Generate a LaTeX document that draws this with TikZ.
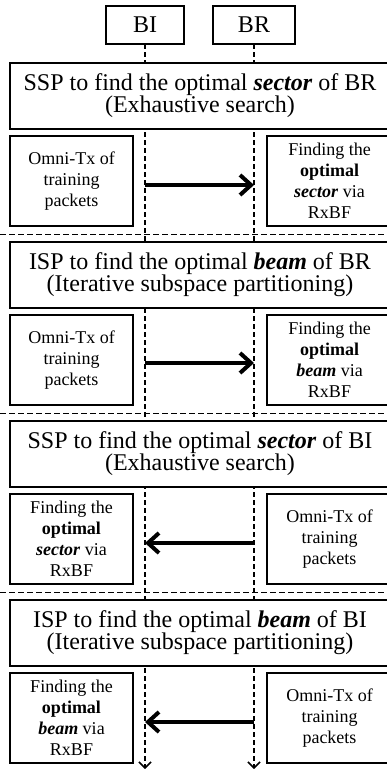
\documentclass[tikz,border=0pt]{standalone}
\usepackage{fontspec}
\setmainfont{Liberation Serif}
\usetikzlibrary{arrows.meta,positioning}

\begin{document}
\begin{tikzpicture}[
  node distance=7pt and 134pt,
  actor/.style={draw, line width=1.5pt, outer sep=0pt, inner sep=0pt, minimum width=78pt, minimum height=38pt, font=\fontsize{24}{26}\selectfont},
  phase/.style={draw, line width=1.8pt, outer sep=0pt, inner sep=0pt, fill=white, align=center, minimum width=380pt, minimum height=66pt, font=\fontsize{24}{22}\selectfont},
  job/.style={draw, line width=1.8pt, outer sep=0pt, inner sep=0pt, fill=white, align=center, minimum height=90pt, font=\fontsize{18}{21}\selectfont},
  life/.style={line width=1.5pt, dash pattern=on 5pt off 3pt, -{Straight Barb[length=6pt,width=12pt]}},
  sepline/.style={line width=1.8pt, dash pattern=on 6pt off 3pt},
  msg/.style={line width=4pt, -{Straight Barb[length=11pt,width=20pt]}}
]
\useasboundingbox (0,0) rectangle (387pt,-769pt);
\coordinate (L) at (0,0);
\coordinate (R) at (387pt,0);
\coordinate (bottom) at (0,-769pt);

% stations and their lifelines
\node[actor] (bi) at (145pt,-25pt) {BI};
\node[actor, minimum width=82pt] (br) at (254pt,-25pt) {BR};
\draw[life] (bi) -- (bi |- bottom);
\draw[life] (br) -- (br |- bottom);

% sector sweep of BR
\node[phase, anchor=north west] (sspr) at (10pt,-63pt) {SSP to find the optimal \textbf{\textit{sector}} of BR\\(Exhaustive search)};
\node[job, minimum width=123pt, below right=7pt and 0pt of sspr.south west] (txa) {Omni-Tx of\\training\\packets};
\node[job, minimum width=125pt, right=of txa] (rxa) {Finding the\\\textbf{optimal}\\\textbf{\textit{sector}} via\\RxBF};
\coordinate[below=8.5pt of txa.south] (sepa);
\draw[sepline] (L |- sepa) -- (R |- sepa);

% beam refinement of BR
\node[phase, below right=16pt and 0pt of txa.south west] (ispr) {ISP to find the optimal \textbf{\textit{beam}} of BR\\(Iterative subspace partitioning)};
\node[job, minimum width=123pt, below right=7pt and 0pt of ispr.south west] (txb) {Omni-Tx of\\training\\packets};
\node[job, minimum width=125pt, right=of txb] (rxb) {Finding the\\\textbf{optimal}\\\textbf{\textit{beam}} via\\RxBF};
\coordinate[below=8.5pt of txb.south] (sepb);
\draw[sepline] (L |- sepb) -- (R |- sepb);

% sector sweep of BI
\node[phase, below right=16pt and 0pt of txb.south west] (sspi) {SSP to find the optimal \textbf{\textit{sector}} of BI\\(Exhaustive search)};
\node[job, minimum width=123pt, below right=7pt and 0pt of sspi.south west] (rxc) {Finding the\\\textbf{optimal}\\\textbf{\textit{sector}} via\\RxBF};
\node[job, minimum width=125pt, right=of rxc] (txc) {Omni-Tx of\\training\\packets};
\coordinate[below=8.5pt of rxc.south] (sepc);
\draw[sepline] (L |- sepc) -- (R |- sepc);

% beam refinement of BI
\node[phase, below right=16pt and 0pt of rxc.south west] (ispi) {ISP to find the optimal \textbf{\textit{beam}} of BI\\(Iterative subspace partitioning)};
\node[job, minimum width=123pt, below right=7pt and 0pt of ispi.south west] (rxd) {Finding the\\\textbf{optimal}\\\textbf{\textit{beam}} via\\RxBF};
\node[job, minimum width=125pt, right=of rxd] (txd) {Omni-Tx of\\training\\packets};

% training packets
\coordinate[below=4pt of txa.center] (ma);
\coordinate[below=3pt of txb.center] (mb);
\coordinate[below=4pt of rxc.center] (mc);
\coordinate[below=4pt of rxd.center] (md);
\draw[msg] (bi |- ma) -- (br |- ma);
\draw[msg] (bi |- mb) -- (br |- mb);
\draw[msg] (br |- mc) -- (bi |- mc);
\draw[msg] (br |- md) -- (bi |- md);
\end{tikzpicture}
\end{document}
